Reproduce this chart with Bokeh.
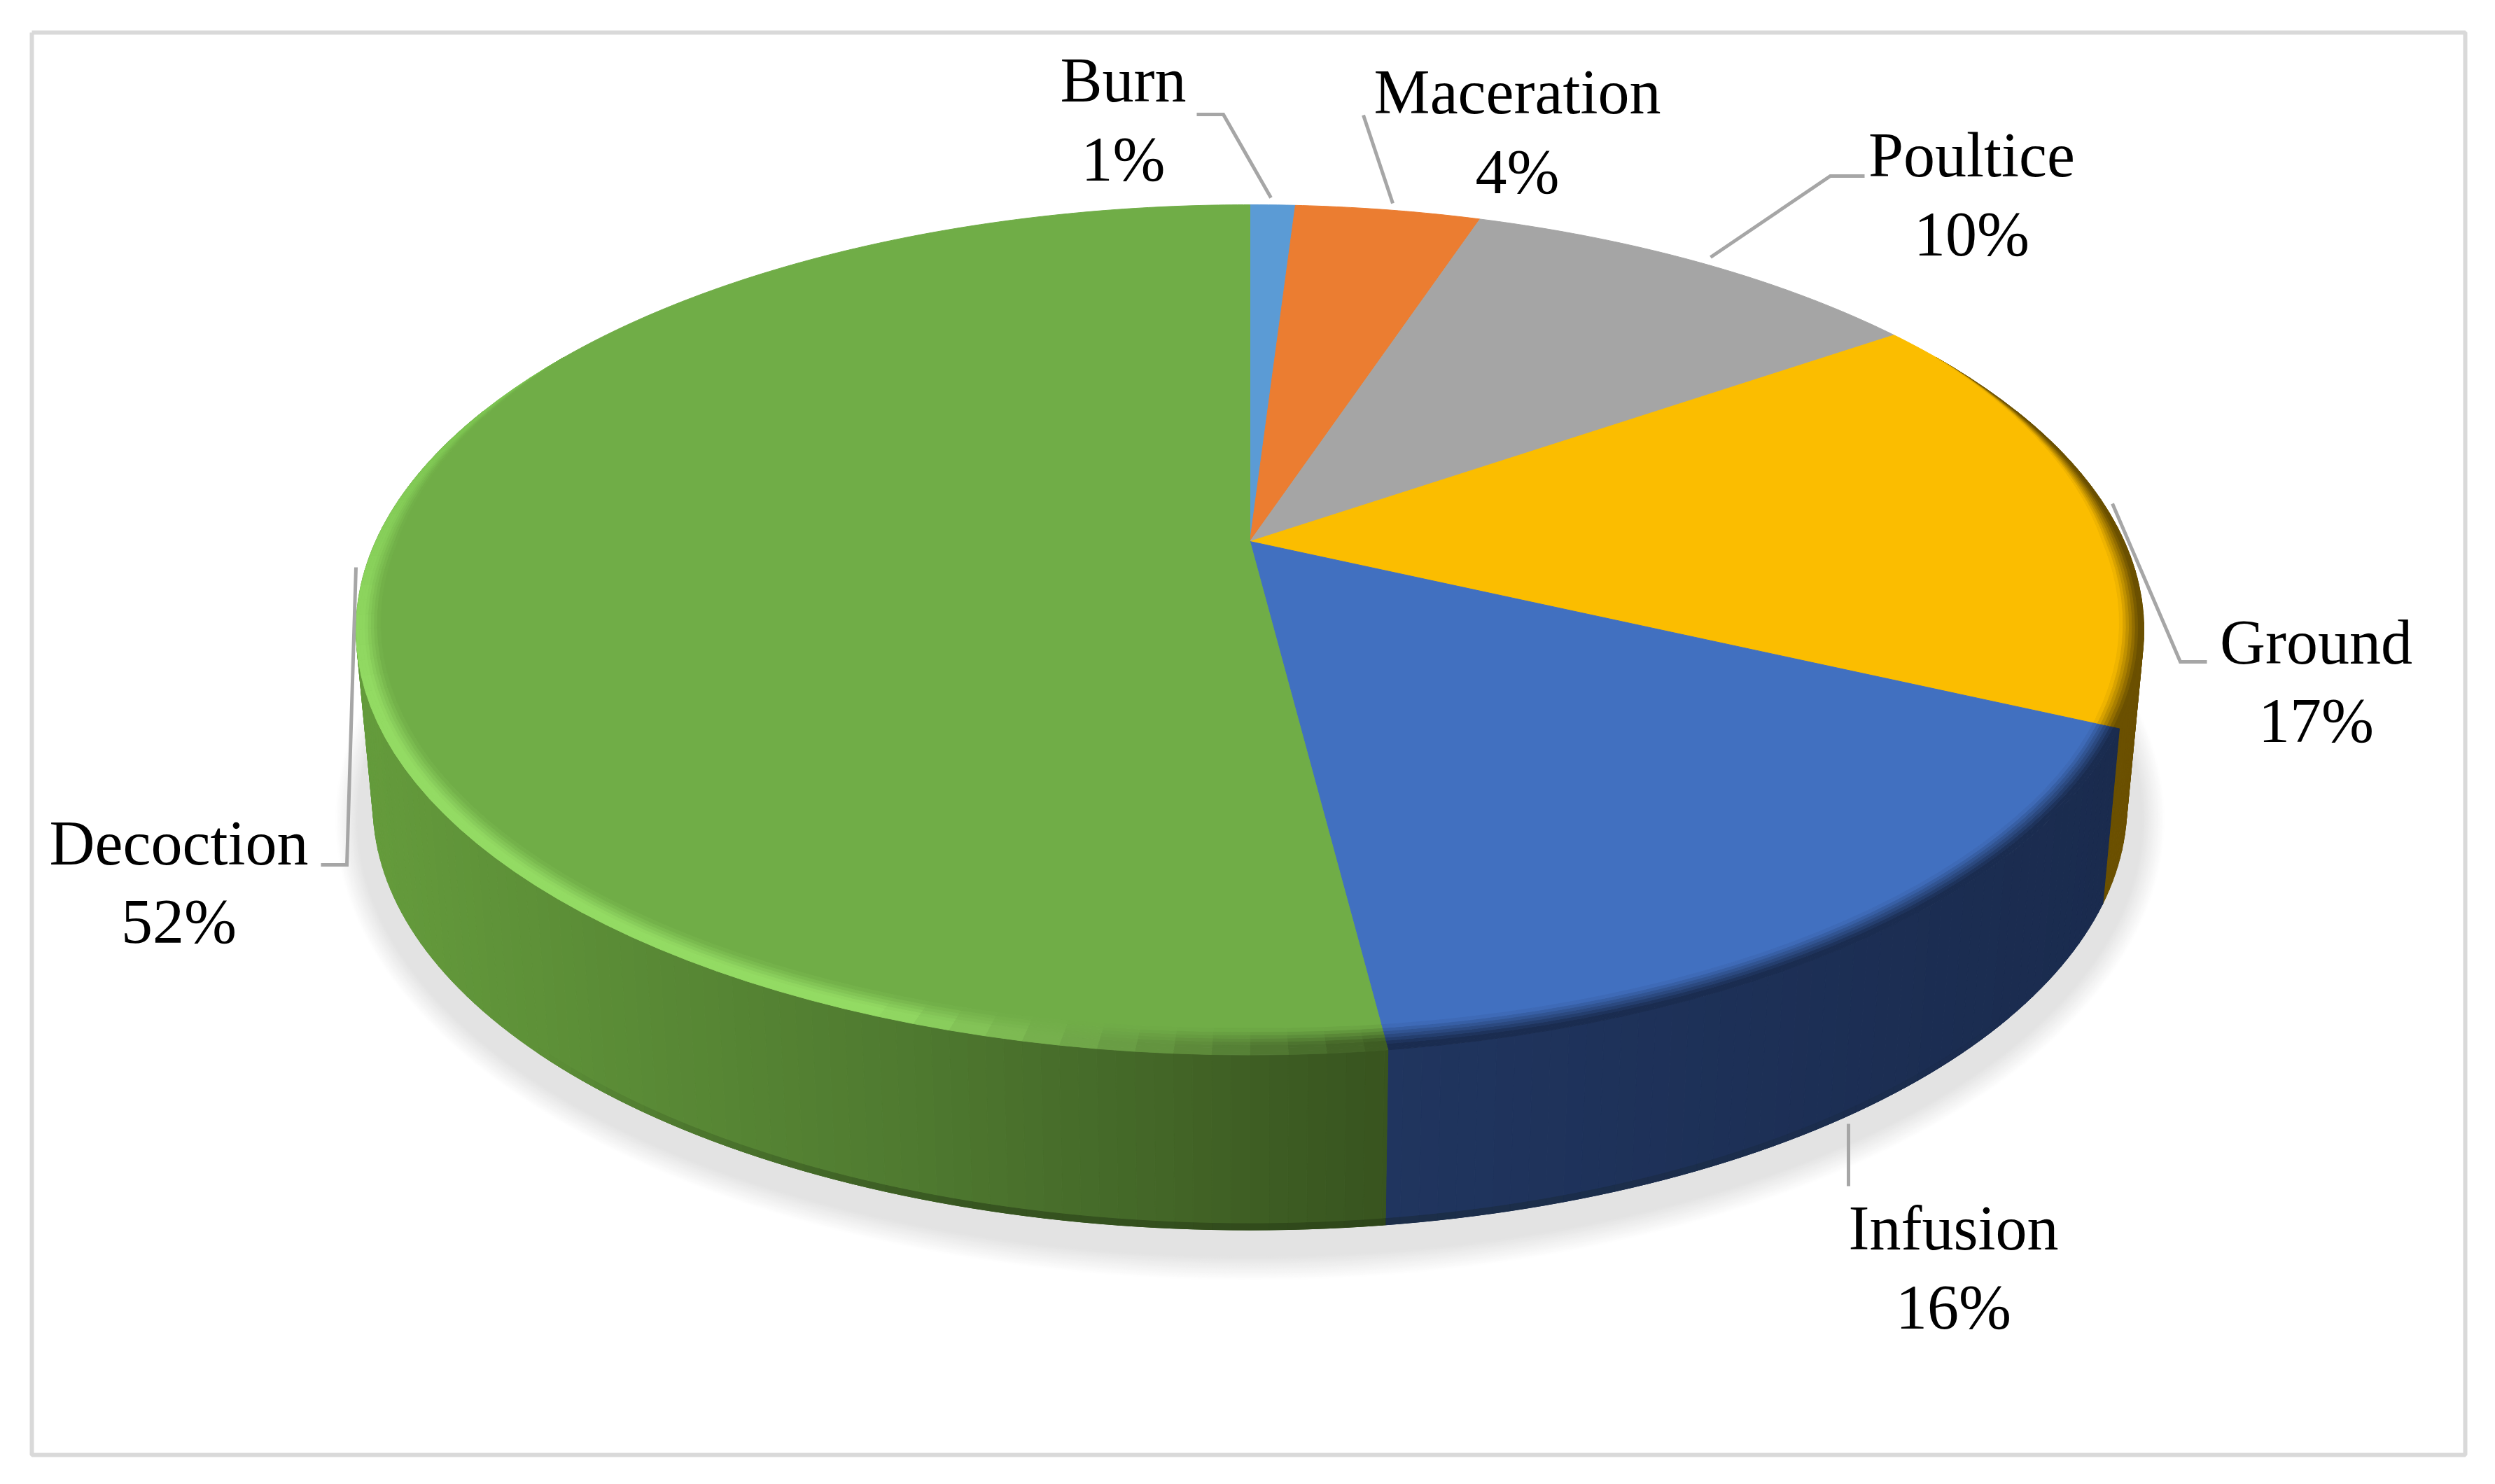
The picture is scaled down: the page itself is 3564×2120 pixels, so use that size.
import numpy as np
from bokeh.plotting import figure
from bokeh.models import Range1d, ColumnDataSource
from bokeh.core.properties import value
from bokeh.embed import file_html
from bokeh.resources import INLINE

# data (clockwise from 12 o'clock), shares
categories = ["Burn", "Maceration", "Poultice", "Ground", "Infusion", "Decoction"]
shares = [1.0, 4.1, 10.3, 16.5, 16.1, 52.0]
percent_labels = ["1%", "4%", "10%", "17%", "16%", "52%"]
face_colors = ["#5B9BD5", "#EB7D31", "#A5A5A5", "#FBBD00", "#4170C0", "#70AD47"]
bevel_colors = ["#5B9BD5", "#EB7D31", "#A5A5A5", "#6B5000", "#1A2C50", "#8AD35C"]

# layout
W, H = 3548, 2104
CX, CY = 1785.0, 773.0
A, B, K = 1249.0, 581.0, 0.208
DEPTH, BOTTOM_SCALE = 250.0, 0.981
LABEL_DY = -31
LABEL_POS = {  # centre x, first baseline, second baseline
    "Burn": (1604, 145, 258),
    "Maceration": (2167, 162, 276),
    "Poultice": (2816, 252, 365),
    "Ground": (3308, 948, 1060),
    "Infusion": (2790, 1785, 1898),
    "Decoction": (255, 1235, 1347),
}
LEADERS = [
    ([1709, 1747, 1815], [163, 163, 282]),
    ([1947, 1989], [164, 290]),
    ([2663, 2614, 2443], [251, 251, 367]),
    ([3017, 3114, 3152], [719, 945, 945]),
    ([2640, 2640], [1605, 1694]),
    ([508, 495, 458], [810, 1235, 1235]),
]


def hex2rgb(h):
    return np.array([int(h[i:i + 2], 16) for i in (1, 3, 5)], float)


def rgb2hex(c):
    return "#%02x%02x%02x" % tuple(int(round(v)) for v in c)


def mix(a, b, t):
    return rgb2hex(hex2rgb(a) * (1 - t) + hex2rgb(b) * t)


def rim(th):
    """Outer rim point of the top surface for a clockwise angle from the top (deg)."""
    r = np.radians(th)
    X, Y = np.sin(r), -np.cos(r)
    w = 1 - K * Y
    return A * X / w, B * Y / w


def ring(th, t):
    """t=0: rim, t=1: inner edge of the bevel."""
    x, y = rim(th)
    m = min(th, 360 - th)
    inset = np.interp(m, [0, 60, 90, 120, 180], [0, 0, 0.025, 0.031, 0.052])
    f = 1 - t * inset
    return CX + x * f, CY + y * f


def bottom(th):
    x, y = rim(th)
    return CX + x * BOTTOM_SCALE, CY + y + DEPTH


def slice_of(th):
    for i, (a, b) in enumerate(zip(starts, ends)):
        if a <= th <= b:
            return i
    return len(shares) - 1


def angle_grid(lo, hi, step):
    vals = set(np.round(np.arange(lo, hi + step / 2, step), 6))
    vals |= {round(float(e), 6) for e in ends if lo < e < hi}
    return sorted(vals)


total = float(sum(shares))
ends = [float(v) for v in np.cumsum(shares) / total * 360]
starts = [0.0] + ends[:-1]

p = figure(width=W, height=H, x_range=Range1d(0, W), y_range=Range1d(H, 0),
           x_axis_type=None, y_axis_type=None, toolbar_location=None,
           output_backend="svg", min_border=0, outline_line_color=None,
           background_fill_color="white", border_fill_color="white")

# frame
p.line([45, 3521, 3521, 45, 45], [46, 46, 2078, 2078, 46], line_color="#D9D9D9", line_width=6)

# soft shadow
n_sh = 24
phi = np.radians(np.linspace(0, 360, 361))
for i in range(n_sh):
    t = i / (n_sh - 1)
    rx, ry, cy = 1308 - 33 * t, 660 - 35 * t, 1170
    p.patch(CX + rx * np.cos(phi), cy + ry * np.sin(phi),
            fill_color=mix("#FFFFFF", "#E3E3E3", t), line_color=None)

# side wall
GREEN_STOPS = ([510, 1300, 1975], ["#659C3C", "#4F7A30", "#38541F"])
BLUE_STOPS = ([1975, 3000], ["#20355F", "#1A2B4E"])


def side_color(i, x):
    if i == 5 or i == 0:
        xs_, cs = GREEN_STOPS
    elif i == 4:
        xs_, cs = BLUE_STOPS
    else:
        return "#6B5000"
    rgb = [np.interp(x, xs_, [hex2rgb(c)[k] for c in cs]) for k in range(3)]
    return rgb2hex(rgb)


sx, sy, sc = [], [], []
grid = angle_grid(70, 290, 1.0)
for th0, th1 in zip(grid[:-1], grid[1:]):
    i = slice_of((th0 + th1) / 2)
    x0, y0 = rim(th0)
    x1, y1 = rim(th1)
    bx0, by0 = bottom(th0)
    bx1, by1 = bottom(th1)
    sx.append([CX + x0, CX + x1, bx1, bx0])
    sy.append([CY + y0, CY + y1, by1, by0])
    sc.append(side_color(i, (bx0 + bx1) / 2))
p.patches("x", "y", source=ColumnDataSource(dict(x=sx, y=sy, c=sc)),
          fill_color="c", line_color="c", line_width=1)

# dark foot of the wall around the front, fading out to both sides
fx, fy, fc = [], [], []
grid = angle_grid(130, 225, 1.0)
for th0, th1 in zip(grid[:-1], grid[1:]):
    m = (th0 + th1) / 2
    x0, y0 = bottom(th0)
    x1, y1 = bottom(th1)
    fx.append([x0, x1, x1, x0])
    fy.append([y0, y1, y1 - 9, y0 - 9])
    c = side_color(slice_of(m), (x0 + x1) / 2)
    fc.append(mix(c, "#101A08", float(np.interp(m, [130, 172, 195, 225], [0, 0.25, 0.35, 0]))))
p.patches("x", "y", source=ColumnDataSource(dict(x=fx, y=fy, c=fc)),
          fill_color="c", line_color="c", line_width=1)


# bevel: rings of small quads from rim inwards
def bevel_color(i, th, t):
    face, edge = face_colors[i], bevel_colors[i]
    if i == 5:
        if th < 200:
            k = (th - ends[4]) / 27.2
            edge = mix("#3C5A22", "#93DB63", min(max(k, 0), 1))
        elif th < 250:
            edge = "#93DB63"
        else:
            edge = mix("#93DB63", "#7CC451", min((th - 250) / 40, 1))
        return mix(face, edge, min(1.0, (1 - t) * 1.6))
    return mix(face, edge, min(1.0, (1 - t) * 1.3))


bx, by, bc = [], [], []
n_ring = 8
grid = angle_grid(60, 300, 2.0)
for j in range(n_ring):
    t0, t1 = j / n_ring, (j + 1) / n_ring
    for th0, th1 in zip(grid[:-1], grid[1:]):
        m = (th0 + th1) / 2
        i = slice_of(m)
        a = ring(th0, t0)
        b = ring(th1, t0)
        c = ring(th1, t1)
        d = ring(th0, t1)
        bx.append([a[0], b[0], c[0], d[0]])
        by.append([a[1], b[1], c[1], d[1]])
        bc.append(bevel_color(i, m, (t0 + t1) / 2))

# flat top
for i, (a, b) in enumerate(zip(starts, ends)):
    th = np.linspace(a, b, max(int(b - a) * 2, 4))
    pts = [ring(v, 1.0) for v in th]
    px = [CX] + [q[0] for q in pts]
    py = [CY] + [q[1] for q in pts]
    p.patch(px, py, fill_color=face_colors[i], line_color=face_colors[i], line_width=1)

p.patches("x", "y", source=ColumnDataSource(dict(x=bx, y=by, c=bc)),
          fill_color="c", line_color="c", line_width=1)

# leader lines
for lx, ly in LEADERS:
    p.line(lx, ly, line_color="#A6A6A6", line_width=5, line_join="miter")

# labels
tx, ty, tt = [], [], []
for name, pct in zip(categories, percent_labels):
    cx_, y1_, y2_ = LABEL_POS[name]
    tx += [cx_, cx_]
    ty += [y1_ + LABEL_DY, y2_ + LABEL_DY]
    tt += [name, pct]
p.text(tx, ty, text=tt, text_font=value("Liberation Serif"), text_font_size="90px",
       text_align="center", text_baseline="alphabetic", text_color="#000000")

open("out.html", "w").write(file_html(p, INLINE))
